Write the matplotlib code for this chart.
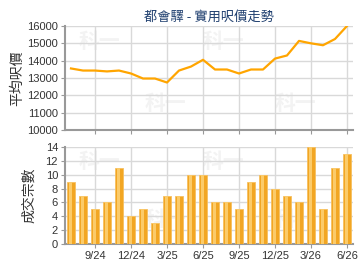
import matplotlib
matplotlib.use("Agg")
import matplotlib.pyplot as plt
import numpy as np

plt.rcParams["font.family"] = ["Liberation Sans", "Noto Sans CJK TC", "DejaVu Sans"]

months = ["7/24", "8/24", "9/24", "10/24", "11/24", "12/24", "1/25", "2/25", "3/25",
          "4/25", "5/25", "6/25", "7/25", "8/25", "9/25", "10/25", "11/25", "12/25",
          "1/26", "2/26", "3/26", "4/26", "5/26", "6/26"]
avg_price = [13550, 13430, 13430, 13380, 13430, 13260, 12970, 12970, 12740, 13430,
             13660, 14050, 13490, 13490, 13260, 13490, 13490, 14120, 14300, 15140,
             15000, 14890, 15250, 16000]
deals = [9, 7, 5, 6, 11, 4, 5, 3, 7, 7, 10, 10, 6, 6, 5, 9, 10, 8, 7, 6, 14, 5, 11, 13]
tick_labels = ["9/24", "12/24", "3/25", "6/25", "9/25", "12/25", "3/26", "6/26"]

GRID = "#d9d9d9"
SPINE = "#999999"
TEXT = "#333333"
CJK = ["Noto Sans CJK TC", "DejaVu Sans"]

x = np.arange(len(months))
tick_pos = [months.index(t) for t in tick_labels]

fig = plt.figure(figsize=(3.6, 2.7), dpi=100)
ax1 = fig.add_axes([65 / 360, 1 - 130 / 270, 288 / 360, 104 / 270])
ax2 = fig.add_axes([65 / 360, 1 - 244 / 270, 288 / 360, 97 / 270])


def style(ax):
    ax.set_xlim(-0.5, len(months) - 0.5)
    ax.set_xticks(tick_pos)
    ax.grid(True, color=GRID, linewidth=1.0)
    ax.set_axisbelow(True)
    for side in ("top", "right"):
        ax.spines[side].set_visible(False)
    for side in ("left", "bottom"):
        ax.spines[side].set_color(SPINE)
        ax.spines[side].set_linewidth(1.5)
    ax.tick_params(colors=TEXT, labelsize=8, length=3, color=SPINE, pad=2)
    # faint watermark
    for xw, yw in ((0.12, 0.85), (0.55, 0.85), (0.35, 0.25), (0.8, 0.25)):
        ax.text(xw, yw, "科一", transform=ax.transAxes, fontsize=15, color="#f3f3f3",
                family=CJK, fontweight="bold", ha="center", va="center", zorder=0)


style(ax1)
ax1.plot(x, avg_price, color="#FFA500", linewidth=1.6, zorder=3)
ax1.set_ylim(10000, 16000)
ax1.set_yticks(range(10000, 16001, 1000))
ax1.set_xticklabels([])
ax1.set_ylabel("平均呎價", family=CJK, fontsize=10, color=TEXT, labelpad=2)
ax1.set_title("都會驛 - 實用呎價走勢", family=CJK, fontsize=9.5, color="#1f3f6f", pad=4)

style(ax2)
ax2.bar(x, deals, width=0.7, color="#F2A623", edgecolor="#F6C060", linewidth=0.6, zorder=3)
ax2.bar(x - 0.05, deals, width=0.3, color="#FBCB6A", linewidth=0, zorder=3)
ax2.set_ylim(0, 14)
ax2.set_yticks(range(0, 15, 2))
ax2.set_xticklabels(tick_labels)
ax2.set_ylabel("成交宗數", family=CJK, fontsize=10, color=TEXT, labelpad=7)

fig.savefig("out.png", dpi=100)
